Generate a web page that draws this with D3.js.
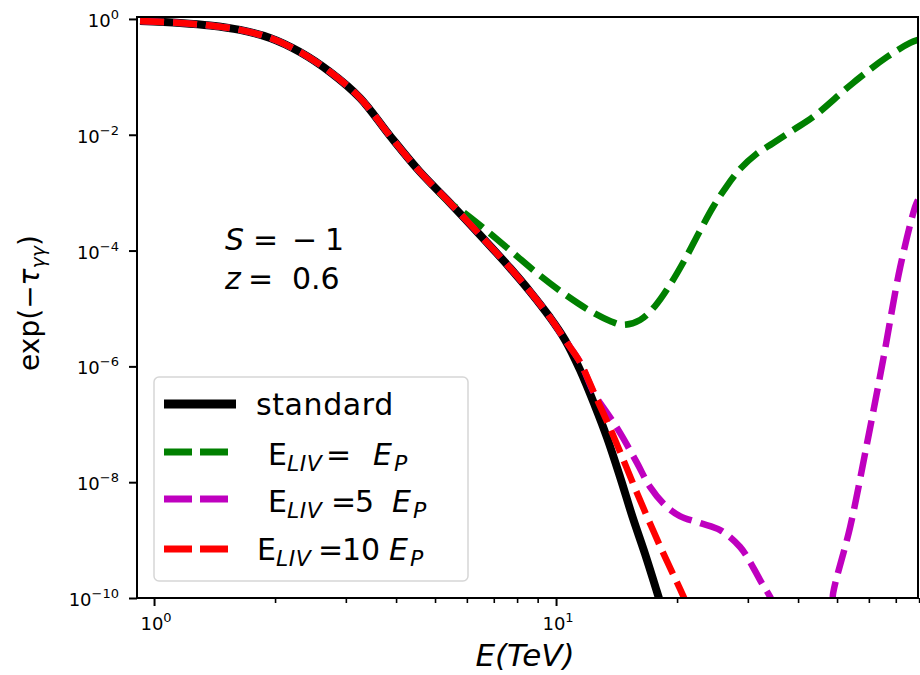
<!DOCTYPE html>
<html>
<head>
<meta charset="utf-8">
<script src="https://cdn.jsdelivr.net/npm/d3@7"></script>
<style>
  body { margin: 0; background: #fff; }
  svg { display: block; }
  text { font-family: "DejaVu Sans", sans-serif; fill: #000; }
</style>
</head>
<body>
<div id="chart"></div>
<script>
// shared low-energy part (all curves coincide here)
const commonE = [0.923, 1.161, 1.378, 1.636, 1.944, 2.307, 2.741, 3.254, 3.865, 4.588, 5.448];
const commonV = [0.924, 0.853, 0.772, 0.646, 0.470, 0.269, 0.1215, 0.0432, 9.53e-3, 2.28e-3, 6.64e-4];

const standardE = [6.47, 7.685, 8.62, 9.66, 10.53, 11.47, 12.5, 13.4, 14.43, 15.5, 16.65, 17.8, 18.4];
const standardV = [1.86e-4, 5.0e-5, 1.95e-5, 7.0e-6, 2.86e-6, 8.7e-7, 2.07e-7, 5.8e-8, 1.23e-8, 2.5e-9, 5.75e-10, 1.32e-10, 6.2e-11];

const liv1E = [5.87, 6.78, 7.82, 9.02, 10.41, 12.15, 13.62, 14.7, 16.18, 17.63, 19.2, 20.95, 22.8, 24.6, 26.6, 28.7, 31.5, 34.7, 38.9, 43.6, 54.8, 66.6, 76.0, 79.5];
const liv1V = [4.64e-4, 2.1e-4, 9.1e-5, 3.94e-5, 1.85e-5, 9.1e-6, 6.1e-6, 5.2e-6, 6.33e-6, 1.1e-5, 2.55e-5, 7.16e-5, 2.18e-4, 5.7e-4, 1.3e-3, 2.57e-3, 4.66e-3, 7.2e-3, 0.0121, 0.0203, 0.0785, 0.221, 0.385, 0.434];

const liv5E = [6.47, 7.685, 8.62, 9.66, 10.53, 11.47, 12.5, 13.4, 14.43, 15.9, 17.13, 18.67, 20.33, 22.8, 25.6, 28.7, 30.9, 32.5, 34.1, 36.1, 48.1, 48.9, 53.9, 59.4, 65.1, 71.8, 78.2, 79.5];
const liv5V = [1.86e-4, 5.0e-5, 1.95e-5, 7.0e-6, 2.86e-6, 1.19e-6, 3.2e-7, 1.57e-7, 7.1e-8, 2.15e-8, 8.3e-9, 4.0e-9, 2.6e-9, 1.97e-9, 1.49e-9, 7.6e-10, 3.4e-10, 1.8e-10, 1.04e-10, 4.2e-11, 4.2e-11, 1.22e-10, 1.68e-9, 4.75e-8, 1.29e-6, 5.2e-5, 5.7e-4, 7.5e-4];

const liv10E = [6.47, 7.685, 8.62, 9.66, 10.53, 11.47, 12.5, 13.62, 14.68, 15.9, 18.14, 20.7, 22.2];
const liv10V = [1.86e-4, 5.0e-5, 1.95e-5, 7.0e-6, 2.86e-6, 1.19e-6, 3.2e-7, 8.6e-8, 2.5e-8, 6.5e-9, 7.9e-10, 1.1e-10, 3.6e-11];

const yTickValues = [1, 1e-2, 1e-4, 1e-6, 1e-8, 1e-10];
const yTickExp = ["0", "\u22122", "\u22124", "\u22126", "\u22128", "\u221210"];
const xMajor = [1, 10];
const xMajorExp = ["0", "1"];
const xMinor = [2, 3, 4, 5, 6, 7, 8, 9, 20, 30, 40, 50, 60, 70, 80];

const W = 920, H = 675;
const plot = { left: 137, right: 918, top: 17, bottom: 598 };

const x = d3.scaleLog().domain([0.907, 79.5]).range([plot.left, plot.right]);
const y = d3.scaleLog().domain([1e-10, 1.08]).range([plot.bottom, plot.top]);

const svg = d3.select("#chart").append("svg").attr("width", W).attr("height", H);

svg.append("clipPath").attr("id", "clip")
  .append("rect")
  .attr("x", plot.left).attr("y", plot.top)
  .attr("width", plot.right - plot.left).attr("height", plot.bottom - plot.top);

const zip = (es, vs) => es.map((e, i) => ({ e, v: vs[i] }));
const series = [
  { pts: zip(commonE.concat(standardE), commonV.concat(standardV)), color: "#000000", width: 8, dash: null },
  { pts: zip(commonE.concat(liv1E), commonV.concat(liv1V)), color: "#008000", width: 6.5, dash: "24,9" },
  { pts: zip(commonE.concat(liv5E), commonV.concat(liv5V)), color: "#bf00bf", width: 6.5, dash: "24,9" },
  { pts: zip(commonE.concat(liv10E), commonV.concat(liv10V)), color: "#ff0000", width: 6.5, dash: "24,9" },
];

const line = d3.line()
  .x(d => x(d.e))
  .y(d => y(d.v))
  .curve(d3.curveCatmullRom.alpha(0.5));

const lines = svg.append("g").attr("clip-path", "url(#clip)");
series.forEach(s => {
  lines.append("path")
    .datum(s.pts)
    .attr("fill", "none")
    .attr("stroke", s.color)
    .attr("stroke-width", s.width)
    .attr("stroke-dasharray", s.dash)
    .attr("d", line);
});

// axes
const yAxis = d3.axisLeft(y).tickValues(yTickValues).tickFormat("").tickSize(8).tickSizeOuter(0);
svg.append("g").attr("transform", `translate(${plot.left},0)`).call(yAxis)
  .call(g => g.selectAll("line").attr("stroke-width", 2))
  .call(g => g.select(".domain").remove());

const xAxis = d3.axisBottom(x).tickValues(xMajor).tickFormat("").tickSize(8).tickSizeOuter(0);
svg.append("g").attr("transform", `translate(0,${plot.bottom})`).call(xAxis)
  .call(g => g.selectAll("line").attr("stroke-width", 2))
  .call(g => g.select(".domain").remove());

const xAxisMinor = d3.axisBottom(x).tickValues(xMinor).tickFormat("").tickSize(5).tickSizeOuter(0);
svg.append("g").attr("transform", `translate(0,${plot.bottom})`).call(xAxisMinor)
  .call(g => g.selectAll("line").attr("stroke-width", 1.6))
  .call(g => g.select(".domain").remove());

svg.append("rect")
  .attr("x", plot.left).attr("y", plot.top)
  .attr("width", plot.right - plot.left).attr("height", plot.bottom - plot.top)
  .attr("fill", "none").attr("stroke", "#000").attr("stroke-width", 2);

// tick labels
const tickLabels = svg.append("g").style("font-family", "'DejaVu Serif', serif").attr("fill", "#222");
yTickValues.forEach((v, i) => {
  const t = tickLabels.append("text")
    .attr("x", 119).attr("y", y(v) + 8)
    .attr("text-anchor", "end");
  t.append("tspan").attr("font-size", 18).text("10");
  t.append("tspan").attr("font-size", 13).attr("dy", -8).text(yTickExp[i]);
});
xMajor.forEach((v, i) => {
  const t = tickLabels.append("text")
    .attr("x", x(v) + 2).attr("y", 630)
    .attr("text-anchor", "middle");
  t.append("tspan").attr("font-size", 18).text("10");
  t.append("tspan").attr("font-size", 13).attr("dy", -8).text(xMajorExp[i]);
});

// axis titles
svg.append("text")
  .attr("x", 525).attr("y", 666)
  .attr("text-anchor", "middle")
  .attr("font-size", 31)
  .attr("font-style", "italic")
  .text("E(TeV)");

const yTitle = svg.append("text")
  .attr("transform", "translate(39,303) rotate(-90)")
  .attr("text-anchor", "middle")
  .attr("font-size", 28);
yTitle.append("tspan").text("exp(\u2212");
yTitle.append("tspan").attr("font-style", "italic").text("\u03c4");
yTitle.append("tspan").attr("font-size", 19).attr("dy", 6).attr("font-style", "italic").text("\u03b3\u03b3");
yTitle.append("tspan").attr("dy", -6).text(")");

// annotation, glyphs placed like mathtext spacing
const note = svg.append("g").attr("font-size", 30);
const n1 = note.append("text").attr("y", 250);
n1.append("tspan").attr("x", 225).attr("font-style", "italic").text("S");
n1.append("tspan").attr("x", 253).text("=");
n1.append("tspan").attr("x", 292).text("\u2212");
n1.append("tspan").attr("x", 325).text("1");
const n2 = note.append("text").attr("y", 289);
n2.append("tspan").attr("x", 225).attr("font-style", "italic").text("z");
n2.append("tspan").attr("x", 248).text("=");
n2.append("tspan").attr("x", 292).text("0.6");

// legend
const legend = svg.append("g");
legend.append("rect")
  .attr("x", 154).attr("y", 377).attr("width", 314).attr("height", 204)
  .attr("rx", 5)
  .attr("fill", "#fff").attr("stroke", "#d6d6d6").attr("stroke-width", 1.5);

const legendRows = [
  { s: series[0], y: 404, ty: 415 },
  { s: series[1], y: 452, ty: 465, e: 268, sub: 287, eq: 326, num: null, ep: 373, p: 394 },
  { s: series[2], y: 499, ty: 512, e: 268, sub: 287, eq: 331, num: [355, "5"], ep: 392, p: 413 },
  { s: series[3], y: 549, ty: 560, e: 257, sub: 276, eq: 318, num: [342, "10"], ep: 389, p: 410 },
];
legendRows.forEach(r => {
  legend.append("line")
    .attr("x1", 164).attr("x2", 236).attr("y1", r.y).attr("y2", r.y)
    .attr("stroke", r.s.color)
    .attr("stroke-width", r.s.dash ? 7 : 9)
    .attr("stroke-dasharray", r.s.dash ? "28,8" : null);
  const t = legend.append("text").attr("y", r.ty).attr("font-size", 30);
  if (!r.e) {
    t.attr("x", 256).attr("letter-spacing", 0.6).text("standard");
    return;
  }
  t.append("tspan").attr("x", r.e).text("E");
  t.append("tspan").attr("x", r.sub).attr("dy", 6).attr("font-size", 22).attr("letter-spacing", 0.5)
    .attr("font-style", "italic").text("LIV");
  t.append("tspan").attr("x", r.eq).attr("dy", -6).text("=");
  if (r.num) t.append("tspan").attr("x", r.num[0]).text(r.num[1]);
  t.append("tspan").attr("x", r.ep).attr("font-style", "italic").text("E");
  t.append("tspan").attr("x", r.p).attr("dy", 6).attr("font-size", 22).attr("font-style", "italic").text("P");
});
</script>
</body>
</html>
